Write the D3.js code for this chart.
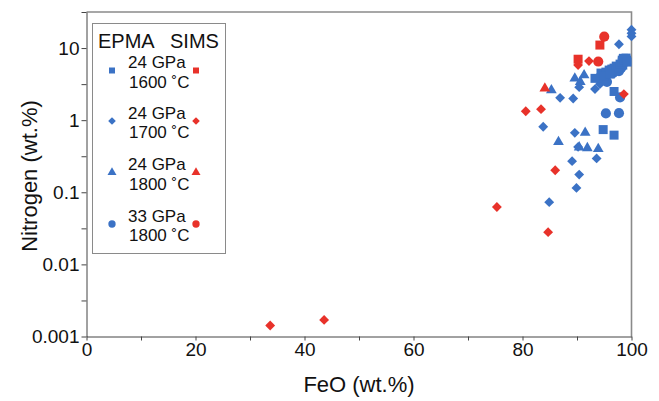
<!DOCTYPE html>
<html>
<head>
<meta charset="utf-8">
<script src="https://cdn.jsdelivr.net/npm/d3@7"></script>
<style>
  body { margin: 0; background: #fff; }
  svg text { font-family: "Liberation Sans", Arial, sans-serif; fill: #111; }
</style>
</head>
<body>
<div id="chart"></div>
<script>
// values: [FeO wt.%, N wt.%]
var epma1600 = [[94.8,0.74],[96.8,0.62],[96.8,2.5],[93.3,3.8],[98.3,6.8],[98.8,6.5],[98.4,5.8],[98.5,7.2],[99.1,6.8],
    [94.4,4.5],[95.3,4.64],[95.9,4.95],[96.4,5.11],[96.8,5.27],[97.2,5.62],[97.5,5.44],[97.9,5.99],[98.3,6.39],
    [98.6,6.81],[99.0,7.26],[99.2,6.39],[95.0,4.08],[96.1,4.36]];
var epma1700 = [[84.9,0.073],[89.9,0.115],[90.4,0.176],[89.1,0.27],[93.6,0.295],[90.2,0.426],[89.6,0.667],[83.8,0.81],
    [86.9,2.04],[89.3,2.0],[93.3,2.7],[97.7,11.3],[100,18],[100,16],[100,14.5],[90.4,2.87],[94.4,3.59],[95.7,4.95],
    [98.4,5.62],[94.2,3.16]];
var epma1800 = [[85.3,2.6],[89.6,3.8],[91.3,4.2],[90.6,3.4],[91.5,0.67],[86.6,0.5],[91.9,0.41],[93.9,0.40],[90.4,0.42]];
var epma33 = [[95.3,1.24],[97.7,1.25],[95.5,3.4],[97.9,2.07],[94.0,3.83],[94.8,4.22],[95.5,4.36],[96.2,4.64],
    [97.0,4.79],[97.3,5.11],[96.6,4.5],[97.7,4.79],[98.1,5.27]];
var sims1600 = [[90.2,7.0],[94.2,11.0]];
var sims1700 = [[33.7,0.00142],[43.6,0.0017],[75.3,0.0625],[84.7,0.028],[86.0,0.202],[80.6,1.33],[83.4,1.42],
    [90.2,5.8],[92.2,6.6],[98.6,2.3]];
var sims1800 = [[84.1,2.76]];
var sims33 = [[95.0,14.4],[93.9,6.5]];

var xTicks = [0, 20, 40, 60, 80, 100];
var xMinor = [10, 30, 50, 70, 90];
var yTicks = [0.001, 0.01, 0.1, 1, 10];
var yTickLabels = ["0.001", "0.01", "0.1", "1", "10"];
var yMinor = [0.00316, 0.0316, 0.316, 3.16, 31.62];
var legendRows = [["24 GPa", "1600 \u02daC"], ["24 GPa", "1700 \u02daC"], ["24 GPa", "1800 \u02daC"], ["33 GPa", "1800 \u02daC"]];

var blue = "#3b72c5", red = "#e8322a";

var width = 659, height = 401;
var margin = {top: 12, right: 27.5, bottom: 64.5, left: 86.5};

var svg = d3.select("#chart").append("svg")
    .attr("width", width).attr("height", height);

var x = d3.scaleLinear().domain([0, 100]).range([margin.left, width - margin.right]);
var y = d3.scaleLog().domain([0.001, 31.62]).range([height - margin.bottom, margin.top]);

// frame top/right
svg.append("path")
    .attr("d", "M" + x(0) + "," + y(31.62) + "H" + x(100) + "V" + y(0.001))
    .attr("fill", "none").attr("stroke", "#8a8a8a").attr("stroke-width", 1.6);

var xAxis = svg.append("g")
    .attr("transform", "translate(0," + y(0.001) + ")")
    .call(d3.axisBottom(x).tickValues(xTicks).tickSize(4).tickSizeOuter(0).tickPadding(2));
xAxis.append("g").call(d3.axisBottom(x).tickValues(xMinor).tickSize(4).tickFormat(""))
    .select(".domain").remove();

var yAxis = svg.append("g")
    .attr("transform", "translate(" + x(0) + ",0)")
    .call(d3.axisLeft(y).tickValues(yTicks).tickSize(5).tickSizeOuter(0).tickPadding(2)
        .tickFormat(function(d, i){ return yTickLabels[i]; }));
yAxis.append("g").call(d3.axisLeft(y).tickValues(yMinor).tickSize(5).tickFormat(""))
    .select(".domain").remove();

svg.selectAll(".domain, .tick line").attr("stroke", "#444");
svg.selectAll(".tick text").style("font-size", "19px").attr("fill", "#111");

svg.append("text")
    .attr("x", (x(0) + x(100)) / 2).attr("y", 392)
    .attr("text-anchor", "middle").style("font-size", "22px")
    .text("FeO (wt.%)");
svg.append("text")
    .attr("transform", "translate(37,176) rotate(-90)")
    .attr("text-anchor", "middle").style("font-size", "22px")
    .text("Nitrogen (wt.%)");

function shape(kind, s) {
    if (kind == "square") return d3.symbol().type(d3.symbolSquare).size(s * s)();
    if (kind == "diamond") return d3.symbol().type(d3.symbolSquare).size(s * s * 0.6)();
    if (kind == "triangle") return d3.symbol().type(d3.symbolTriangle).size(s * s * 0.62)();
    return d3.symbol().type(d3.symbolCircle).size(s * s * 1.0)();
}

function plot(data, kind, color) {
    svg.append("g").selectAll("path")
        .data(data)
        .enter()
        .append("path")
        .attr("d", shape(kind, 9))
        .attr("fill", color)
        .attr("transform", function(d){
            return "translate(" + x(d[0]) + "," + y(d[1]) + ")" + (kind == "diamond" ? " rotate(45)" : "");
        });
}

plot(epma1700, "diamond", blue);
plot(epma1800, "triangle", blue);
plot(epma33, "circle", blue);
plot(epma1600, "square", blue);
plot(sims1700, "diamond", red);
plot(sims1600, "square", red);
plot(sims1800, "triangle", red);
plot(sims33, "circle", red);

// legend
var lg = svg.append("g");
lg.append("rect").attr("x", 92.5).attr("y", 23.5).attr("width", 133).attr("height", 230)
    .attr("fill", "#fff").attr("stroke", "#8a8a8a").attr("stroke-width", 1);
lg.append("text").attr("x", 98).attr("y", 48).style("font-size", "20px").text("EPMA");
lg.append("text").attr("x", 170).attr("y", 48).style("font-size", "20px").text("SIMS");

var kinds = ["square", "diamond", "triangle", "circle"];
var rowTop = [68, 118.5, 170, 221.5];
var legendSize = [6, 7, 7.5, 6.5];
legendRows.forEach(function(r, i){
    lg.append("text").attr("x", 128).attr("y", rowTop[i]).style("font-size", "17px").text(r[0]);
    lg.append("text").attr("x", 129).attr("y", rowTop[i] + 19.5).style("font-size", "17px").text(r[1]);
    var my = rowTop[i] + 2.5;
    [[112, blue], [196, red]].forEach(function(m){
        lg.append("path").attr("d", shape(kinds[i], legendSize[i])).attr("fill", m[1])
            .attr("transform", "translate(" + m[0] + "," + my + ")" + (kinds[i] == "diamond" ? " rotate(45)" : ""));
    });
});
</script>
</body>
</html>
